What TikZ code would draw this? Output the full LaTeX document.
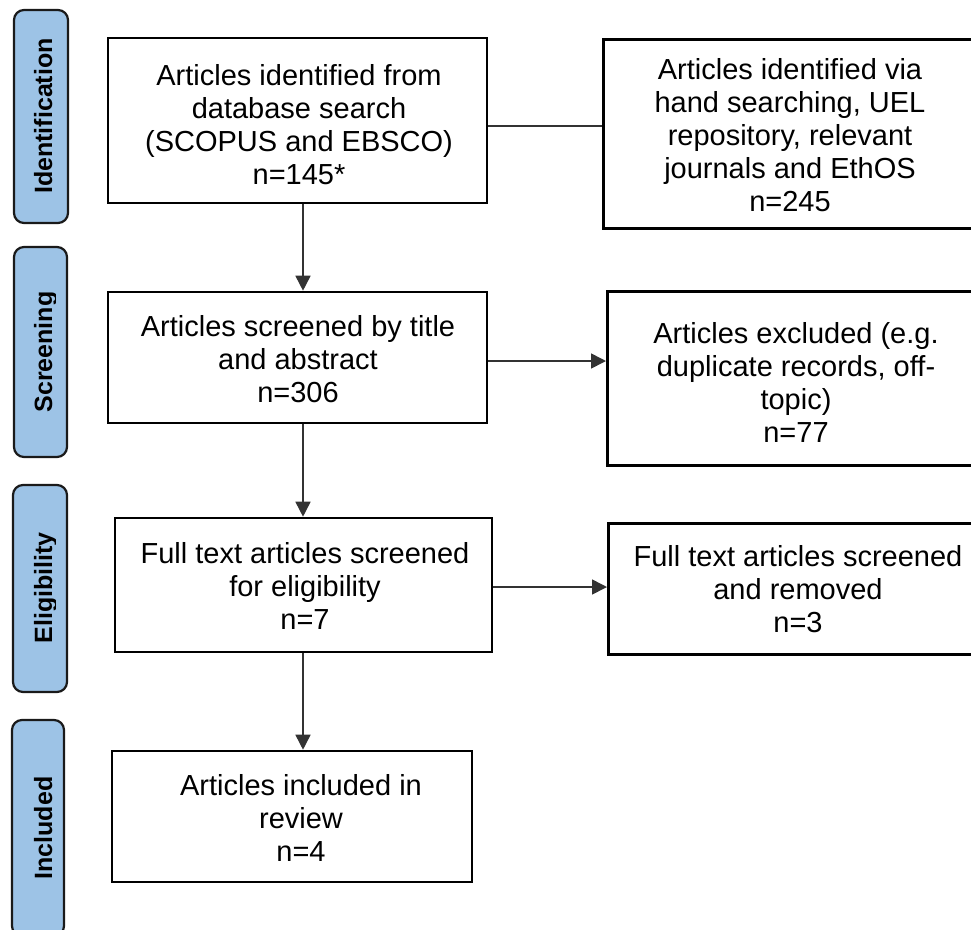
\documentclass[tikz,border=0pt]{standalone}
\usepackage{fontspec}
\setmainfont{Liberation Sans}
\usetikzlibrary{arrows.meta}
\definecolor{stagefill}{HTML}{9DC3E6}
\definecolor{stageline}{HTML}{1A1A1A}
\begin{document}
\begin{tikzpicture}[x=1pt,y=-1pt,
  stagebar/.style={draw=stageline, line width=2.2pt, fill=stagefill,
    rounded corners=10pt, inner sep=0pt},
  stagelabel/.style={rotate=90, anchor=base, inner sep=0pt,
    font=\bfseries\fontsize{25}{30}\selectfont},
  box/.style={draw=black, line width=2.6pt, inner sep=0pt},
  boxtext/.style={inner sep=0pt, align=center,
    font=\fontsize{29}{33}\selectfont},
  link/.style={draw=black!80, line width=1.6pt},
  flow/.style={link, -{Triangle[length=15pt,width=15pt]}}]
\useasboundingbox (0,0) rectangle (971,929);

% stage bars on the left
\node[stagebar, minimum width=54pt, minimum height=213pt] (barA) at (41,116.5) {};
\node[stagebar, minimum width=53pt, minimum height=210pt] (barB) at (40.5,352) {};
\node[stagebar, minimum width=54pt, minimum height=207pt] (barC) at (40,588.5) {};
\node[stagebar, minimum width=52pt, minimum height=216pt] (barD) at (38,828) {};

% stage names, cut off where they run out of the bar
\begin{scope}
  \clip (10,0) rectangle (55,929);
  \node[stagelabel] (labA) at (52,116) {Identification};
  \node[stagelabel] (labB) at (52,352) {Screening};
  \node[stagelabel] (labC) at (52,588) {Eligibility};
  \node[stagelabel] (labD) at (52,828) {Included};
\end{scope}

% main column
\node[box, minimum width=379pt, minimum height=165pt] (ident) at (297.5,120.5) {};
\node[boxtext] (identtxt) at (299,125)
  {Articles identified from\\database search\\(SCOPUS and EBSCO)\\n=145*};
\node[box, minimum width=379pt, minimum height=131pt] (screen) at (297.5,357.5) {};
\node[boxtext] (screentxt) at (298,359)
  {Articles screened by title\\and abstract\\n=306};
\node[box, minimum width=377pt, minimum height=134pt] (elig) at (303.5,585) {};
\node[boxtext] (eligtxt) at (305,586)
  {Full text articles screened\\for eligibility\\n=7};
\node[box, minimum width=360pt, minimum height=131pt] (incl) at (292,816.5) {};
\node[boxtext] (incltxt) at (301,818)
  {Articles included in\\review\\n=4};

% side column (boxes run past the right edge)
\node[box, anchor=north west, minimum width=400pt, minimum height=189pt] (hand) at (602,38) {};
\node[boxtext] (handtxt) at (790,135)
  {Articles identified via\\hand searching, UEL\\repository, relevant\\journals and EthOS\\n=245};
\node[box, anchor=north west, minimum width=400pt, minimum height=174pt] (excl) at (606,290) {};
\node[boxtext] (excltxt) at (796,382)
  {Articles excluded (e.g.\\duplicate records, off-\\topic)\\n=77};
\node[box, anchor=north west, minimum width=400pt, minimum height=131pt] (removed) at (607,522) {};
\node[boxtext] (removedtxt) at (798,589)
  {Full text articles screened\\and removed\\n=3};

% connectors
\draw[link] ([yshift=-5.5pt]ident.east) -- ([yshift=-5.5pt]ident.east -| hand.west);
\draw[flow] ([xshift=5.5pt]ident.south) -- ([xshift=5.5pt]ident.south |- screen.north);
\draw[flow] ([yshift=-3.5pt]screen.east) -- ([yshift=-3.5pt]screen.east -| excl.west);
\draw[flow] ([xshift=5.5pt]screen.south) -- ([xshift=5.5pt]screen.south |- elig.north);
\draw[flow] ([yshift=-2pt]elig.east) -- ([yshift=-2pt]elig.east -| removed.west);
\draw[flow] ([xshift=-0.5pt]elig.south) -- ([xshift=-0.5pt]elig.south |- incl.north);
\end{tikzpicture}
\end{document}
